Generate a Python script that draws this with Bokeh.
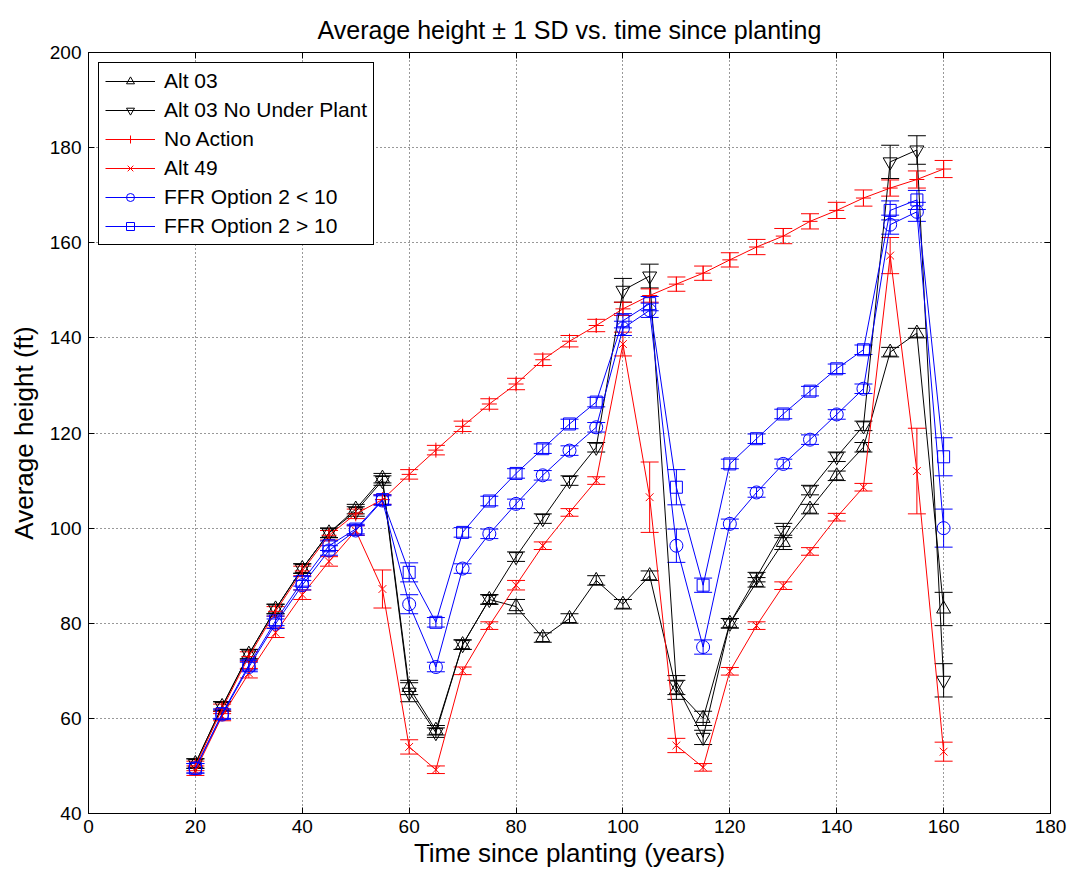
from bokeh.plotting import figure
from bokeh.models import (ColumnDataSource, Whisker, TeeHead, LinearAxis, Legend,
                          LegendItem, FixedTicker, Range1d)
from bokeh.embed import file_html
from bokeh.resources import INLINE

time = [20, 25, 30, 35, 40, 45, 50, 55, 60, 65, 70, 75, 80, 85, 90, 95,
        100, 105, 110, 115, 120, 125, 130, 135, 140, 145, 150, 155, 160]

alt03 = [50.5, 62.5, 73.5, 83, 91.5, 99, 104, 110.5,
         66.5, 57.5, 75.5, 85, 83.5, 77, 81, 89,
         84, 90, 66, 60, 80, 88.6, 97, 104,
         111, 117, 137, 141, 83]
alt03_sd = [1, 1, 1, 1, 1, 1, 1, 1,
            1.5, 1, 1, 1, 1.5, 1, 1, 1,
            1, 1, 2, 1.5, 1, 1, 1.5, 1,
            1, 1, 1, 1, 3.5]

nounder = [50.5, 62.5, 73.5, 83, 91.5, 99, 103.5, 110,
           65.5, 57, 75.5, 85, 94, 102, 110, 117,
           150, 153, 67, 56, 80, 89.7, 99.5, 108,
           115, 121.5, 177, 179.5, 68]
nounder_sd = [1, 1, 1, 1, 1, 1, 1, 1,
              2, 1, 1, 1, 1, 1, 1, 1,
              2.5, 2.5, 2, 1.5, 1, 1, 1.5, 1,
              1, 1, 3.5, 3, 3.5]

noaction = [50, 62, 73, 82.5, 91, 98.5, 103, 106,
            111.3, 116.4, 121.4, 126.1, 130.3, 135.4, 139.3, 142.6,
            146.1, 148.9, 151.3, 153.6, 156.4, 159.1, 161.4, 164.5,
            166.8, 169.4, 171.5, 173.3, 175.5]
noaction_sd = [1, 1, 1, 1, 1, 1, 1, 1,
               1, 1, 1.1, 1.1, 1.2, 1.2, 1.2, 1.3,
               1.4, 1.4, 1.5, 1.5, 1.5, 1.6, 1.6, 1.6,
               1.7, 1.7, 1.7, 1.8, 1.8]

alt49 = [49, 60.5, 69.5, 78, 86, 93, 99.5, 87.2,
         54, 49.2, 70, 79.5, 88, 96.3, 103.3, 110,
         138.7, 106.5, 54.3, 49.7, 69.9, 79.5, 87.9, 95.1,
         102.3, 108.6, 157.3, 112, 53]
alt49_sd = [1, 1, 1, 1, 1, 1, 1, 4,
            1.5, 0.8, 0.8, 0.8, 1, 0.8, 0.8, 0.8,
            2.5, 7.4, 1.5, 0.8, 0.8, 0.8, 0.8, 0.8,
            0.8, 0.8, 3.8, 9, 2]

ffr_lt = [49.5, 60.8, 70.8, 79.9, 88, 95.3, 99.5, 105.8,
          84, 70.8, 91.5, 98.8, 105.1, 111.1, 116.3, 121.2,
          142, 145.8, 96.3, 75, 100.9, 107.5, 113.5, 118.6,
          123.9, 129.3, 163.8, 166.5, 100]
ffr_lt_sd = [1, 1, 1, 1, 1, 1, 1, 1,
             2, 1, 1, 1, 1, 1, 1, 1,
             1.5, 1.5, 3.5, 1.5, 1, 1, 1, 1,
             1, 1, 2, 2, 4]

ffr_gt = [49.5, 61, 71.2, 80.5, 88.8, 96.3, 99.8, 106,
          90.7, 80.2, 99.1, 105.7, 111.5, 116.7, 121.9, 126.5,
          143.6, 147.2, 108.6, 88, 113.5, 118.8, 124, 128.8,
          133.5, 137.5, 166.8, 169, 115]
ffr_gt_sd = [1, 1, 1, 1, 1, 1, 1, 1,
             2, 1, 1, 1, 1, 1, 1, 1,
             1.5, 1.5, 3.7, 1.5, 1, 1, 1, 1,
             1, 1, 2, 2, 4]

series_names = ["Alt 03", "Alt 03 No Under Plant", "No Action", "Alt 49",
                "FFR Option 2 < 10", "FFR Option 2 > 10"]

x_ticks = [0, 20, 40, 60, 80, 100, 120, 140, 160, 180]
y_ticks = [40, 60, 80, 100, 120, 140, 160, 180, 200]

FONT = "Liberation Sans"

p = figure(width=1070, height=870, x_range=Range1d(0, 180), y_range=Range1d(40, 200),
           output_backend="svg", toolbar_location=None,
           min_border_left=88, min_border_right=20, min_border_top=52, min_border_bottom=57,
           title="Average height \u00b1 1 SD vs. time since planting")

p.title.text_font = FONT
p.title.text_font_size = "25px"
p.title.text_font_style = "normal"
p.title.align = "center"
p.title.text_color = "black"
p.title.standoff = 18

p.outline_line_color = "black"
p.outline_line_alpha = 1
p.background_fill_color = "white"

for ax, ticks in ((p.xaxis[0], x_ticks), (p.yaxis[0], y_ticks)):
    ax.ticker = FixedTicker(ticks=ticks)
    ax.major_tick_in = 6
    ax.major_tick_out = 0
    ax.minor_tick_line_color = None
    ax.major_label_text_font = FONT
    ax.major_label_text_font_size = "19px"
    ax.major_label_text_color = "black"
    ax.axis_label_text_font = FONT
    ax.axis_label_text_font_size = "26px"
    ax.axis_label_text_font_style = "normal"
    ax.axis_label_text_color = "black"
    ax.axis_line_color = "black"
    ax.major_tick_line_color = "black"

p.xaxis.axis_label = "Time since planting (years)"
p.yaxis.axis_label = "Average height (ft)"
p.xaxis.axis_label_standoff = 2
p.xaxis.major_label_standoff = 6
p.yaxis.axis_label_standoff = 8
p.yaxis.major_label_standoff = 7

for loc, ticks in (("above", x_ticks), ("right", y_ticks)):
    ax = LinearAxis(ticker=FixedTicker(ticks=ticks), major_tick_in=6, major_tick_out=0,
                    minor_tick_line_color=None,
                    major_label_overrides={t: "" for t in ticks},
                    major_label_standoff=0, axis_line_color="black",
                    major_tick_line_color="black")
    p.add_layout(ax, loc)

for g, ticks in ((p.xgrid[0], x_ticks), (p.ygrid[0], y_ticks)):
    g.ticker = FixedTicker(ticks=ticks)
    g.grid_line_color = "black"
    g.grid_line_alpha = 0.8
    g.grid_line_dash = "1 3"
    g.grid_line_width = 1

specs = [
    (series_names[0], alt03, alt03_sd, "black", "triangle", 14),
    (series_names[1], nounder, nounder_sd, "black", "inverted_triangle", 14),
    (series_names[2], noaction, noaction_sd, "red", "cross", 15),
    (series_names[3], alt49, alt49_sd, "red", "x", 11),
    (series_names[4], ffr_lt, ffr_lt_sd, "blue", "circle", 13),
    (series_names[5], ffr_gt, ffr_gt_sd, "blue", "square", 12),
]

items = []
for name, ys, sds, color, marker, size in specs:
    src = ColumnDataSource(dict(
        x=time, y=ys,
        upper=[a + b for a, b in zip(ys, sds)],
        lower=[a - b for a, b in zip(ys, sds)],
    ))
    w = Whisker(source=src, base="x", upper="upper", lower="lower",
                line_color=color, line_width=1,
                upper_head=TeeHead(size=18, line_color=color, line_width=1),
                lower_head=TeeHead(size=18, line_color=color, line_width=1))
    p.add_layout(w)
    lr = p.line("x", "y", source=src, line_color=color, line_width=1)
    sr = p.scatter("x", "y", source=src, marker=marker, size=size,
                   line_color=color, fill_color=None, line_width=1)
    items.append(LegendItem(label=name, renderers=[lr, sr]))

legend = Legend(items=items, location="top_left")
legend.border_line_color = "black"
legend.border_line_alpha = 1
legend.background_fill_color = "white"
legend.background_fill_alpha = 1
legend.label_text_font = FONT
legend.label_text_font_size = "21px"
legend.label_text_color = "black"
legend.glyph_width = 50
legend.glyph_height = 20
legend.label_height = 20
legend.spacing = 5
legend.padding = 6
legend.margin = 10
legend.label_standoff = 9
p.add_layout(legend)

open("out.html", "w").write(file_html(p, INLINE))
